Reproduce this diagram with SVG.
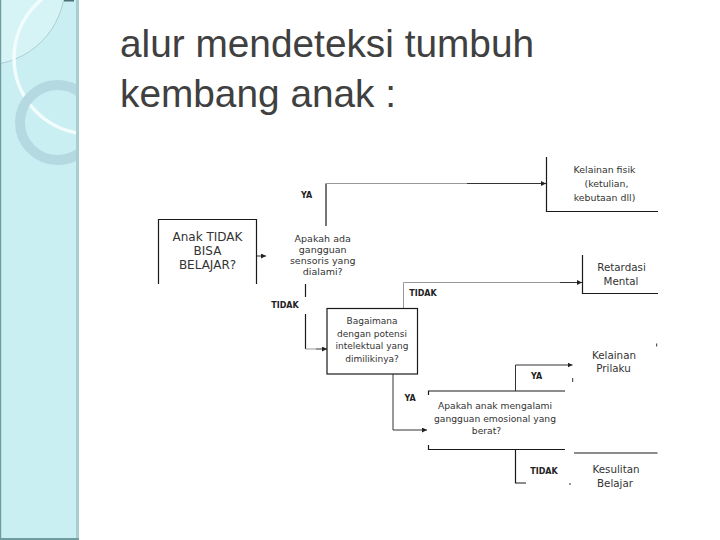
<svg xmlns="http://www.w3.org/2000/svg" width="720" height="540" viewBox="0 0 720 540">
<defs>
<clipPath id="panelClip"><rect x="0" y="0" width="77" height="540"/></clipPath>
<marker id="arr" viewBox="0 0 6 6" refX="6" refY="3" markerWidth="5" markerHeight="5" markerUnits="userSpaceOnUse" orient="auto"><path d="M0,0 L6,3 L0,6 Z" fill="#222"/></marker>
</defs>
<style>
.t{font-family:"DejaVu Sans",Verdana,sans-serif;fill:#333;text-anchor:middle}
.lb{font-family:"DejaVu Sans",Verdana,sans-serif;font-weight:bold;font-size:8px;fill:#222;text-anchor:middle}
.ln{fill:none;stroke:#1a1a1a;stroke-width:1.2}
.cn{fill:none;stroke:#333;stroke-width:1}
.gr{fill:none;stroke:#999;stroke-width:1}
.title{font-family:"Liberation Sans",Arial,sans-serif;font-size:38.8px;fill:#404040}
</style>
<rect width="720" height="540" fill="#fff"/>
<g id="sidebar">
<rect x="0" y="0" width="79" height="540" fill="#caeff3"/>
<g clip-path="url(#panelClip)">
<circle cx="-15" cy="-15" r="80" fill="#d6f4f6" stroke="#9dbfc4" stroke-width="0.7"/>
<circle cx="90" cy="58" r="76" fill="none" stroke="#f2fcfd" stroke-width="3.5"/>
<circle cx="57.5" cy="122.5" r="37.5" fill="none" stroke="#b4d9e1" stroke-width="10"/>
</g>
<rect x="76" y="0" width="3" height="540" fill="#aacdd2"/>
<rect x="0" y="0" width="1.2" height="540" fill="#6f9ca1"/>
<rect x="0" y="538" width="79" height="2" fill="#6f9ca1"/>
<rect x="64" y="0" width="10" height="1.5" fill="#4d6f73"/>
</g>
<g id="title">
<text class="title" x="120" y="57">alur mendeteksi tumbuh</text>
<text class="title" x="120" y="107">kembang anak :</text>
</g>
<g id="connectors">
<line class="cn" x1="257" y1="256" x2="266" y2="256" marker-end="url(#arr)"/>
<line class="ln" x1="326" y1="226" x2="326" y2="183.5"/>
<line class="gr" x1="326" y1="183.5" x2="467" y2="183.5"/>
<line class="cn" x1="467" y1="183.5" x2="546" y2="183.5" marker-end="url(#arr)"/>
<line class="ln" x1="305.5" y1="284" x2="305.5" y2="297"/>
<line class="ln" x1="305.5" y1="314" x2="305.5" y2="349"/>
<line class="gr" x1="305.5" y1="349" x2="316" y2="349"/>
<line class="cn" x1="316" y1="349" x2="327" y2="349" marker-end="url(#arr)"/>
<polyline class="gr" points="403.5,308 403.5,282.5 562,282.5"/>
<line class="cn" x1="560" y1="282.5" x2="582" y2="282.5" marker-end="url(#arr)"/>
<polyline class="cn" points="393,374 393,430 427,430" marker-end="url(#arr)"/>
<polyline class="cn" points="515.5,391 515.5,365 572.5,365" marker-end="url(#arr)"/>
<polyline class="ln" points="515.5,449.5 515.5,483 526,483"/>
<line class="cn" x1="569" y1="484" x2="571" y2="484"/>
<line class="cn" x1="572.7" y1="378" x2="572.7" y2="382"/>
<line class="cn" x1="656.7" y1="343.5" x2="656.7" y2="346.5"/>
<text class="lb" x="306.5" y="198">YA</text>
<text class="lb" x="285" y="308">TIDAK</text>
<text class="lb" x="423" y="296">TIDAK</text>
<text class="lb" x="410" y="401">YA</text>
<text class="lb" x="536.5" y="379">YA</text>
<text class="lb" x="544" y="474">TIDAK</text>
</g>
<g id="start">
<polyline class="ln" points="158.5,284 158.5,219.5 256.5,219.5 256.5,284"/>
<text class="t" font-size="12" x="207.5" y="241">Anak TIDAK</text>
<text class="t" font-size="12" x="207.5" y="255">BISA</text>
<text class="t" font-size="12" x="207.5" y="269" fill="#222">BELAJAR?</text>
</g>
<g id="q-sensoris">
<text class="t" font-size="9.5" x="322.7" y="241.5">Apakah ada</text>
<text class="t" font-size="9.5" x="322.7" y="252.5">gangguan</text>
<text class="t" font-size="9.5" x="322.7" y="263.5">sensoris yang</text>
<text class="t" font-size="9.5" x="322.7" y="275">dialami?</text>
</g>
<g id="q-intelektual">
<rect class="ln" x="327" y="308.5" width="90.5" height="65.5"/>
<text class="t" font-size="9" x="372" y="324">Bagaimana</text>
<text class="t" font-size="9" x="372" y="337">dengan potensi</text>
<text class="t" font-size="9" x="372" y="349">intelektual yang</text>
<text class="t" font-size="9" x="372" y="361.5">dimilikinya?</text>
</g>
<g id="q-emosional">
<polyline class="ln" points="428.5,395 428.5,391 565,391"/>
<polyline class="ln" points="428.5,445 428.5,449.5 565,449.5"/>
<text class="t" font-size="9.2" x="495" y="409">Apakah anak mengalami</text>
<text class="t" font-size="9.2" x="495" y="421.5">gangguan emosional yang</text>
<text class="t" font-size="9.2" x="486.5" y="433.5">berat?</text>
</g>
<g id="kelainan-fisik">
<polyline class="ln" points="546.5,157 546.5,211.5 658,211.5"/>
<text class="t" font-size="9.4" x="604.5" y="172.5">Kelainan fisik</text>
<text class="t" font-size="9.4" x="606.5" y="186.5">(ketulian,</text>
<text class="t" font-size="9.4" x="604.5" y="200.5">kebutaan dll)</text>
</g>
<g id="retardasi">
<polyline class="ln" points="582.5,255 582.5,293.5 658,293.5"/>
<text class="t" font-size="10.3" x="621.5" y="270.5">Retardasi</text>
<text class="t" font-size="10.3" x="621" y="285">Mental</text>
</g>
<g id="kelainan-prilaku">
<text class="t" font-size="10.3" x="614" y="359">Kelainan</text>
<text class="t" font-size="10.3" x="613.5" y="371.5">Prilaku</text>
</g>
<g id="kesulitan">
<line class="ln" x1="574" y1="453" x2="657.5" y2="453"/>
<text class="t" font-size="10.3" x="616" y="473">Kesulitan</text>
<text class="t" font-size="10.3" x="615" y="486.5">Belajar</text>
</g>
</svg>
